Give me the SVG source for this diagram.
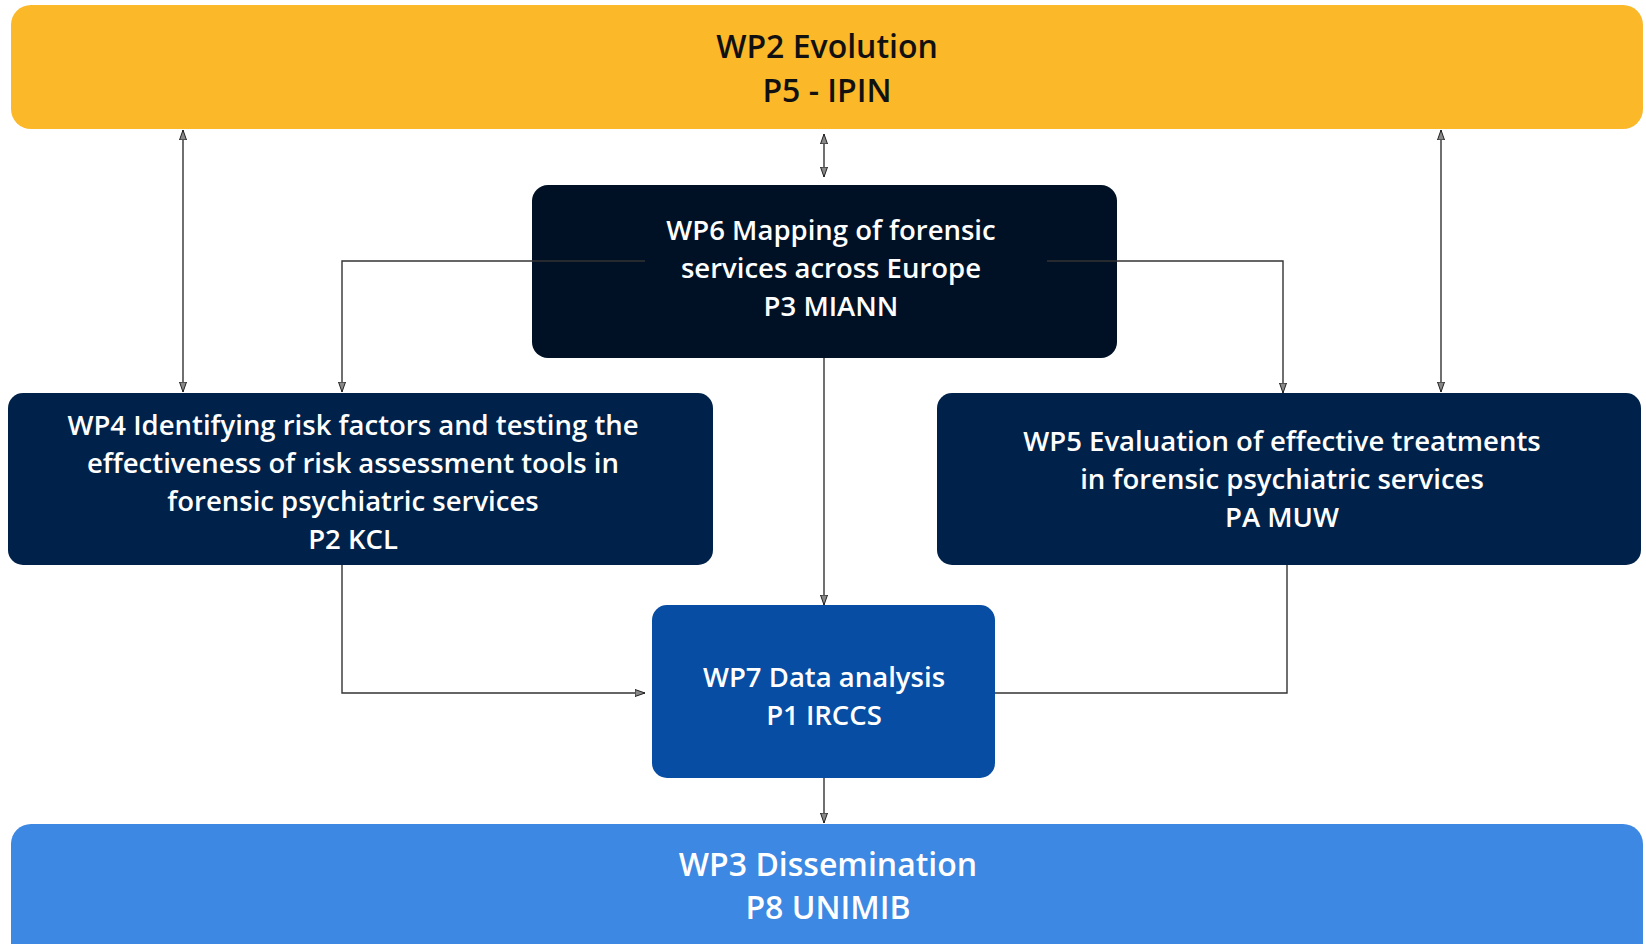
<svg xmlns="http://www.w3.org/2000/svg" width="1646" height="944" viewBox="0 0 1646 944">
<style>
.t{font-family:"Open Sans","Noto Sans","DejaVu Sans",sans-serif;text-anchor:middle;}
.big{font-size:32px;font-weight:600;}
.mid{font-size:27.5px;font-weight:600;fill:#ffffff;}
.dk{fill:#111111;}
.wh{fill:#ffffff;}
.c{fill:none;stroke:#333333;stroke-width:1.4;}
</style>
<defs>
<marker id="ah" viewBox="0 0 10 8" refX="10" refY="4" markerWidth="10" markerHeight="8" markerUnits="userSpaceOnUse" orient="auto-start-reverse">
<path d="M0,0.5 L10,4 L0,7.5 Z" fill="#888888" stroke="#222222" stroke-width="1"/>
</marker>
</defs>
<g id="wp2">
<rect x="11" y="5" width="1632" height="124" rx="20" fill="#FBB829"/>
<text class="t big dk" x="827" y="58">WP2 Evolution</text>
<text class="t big dk" x="827" y="102">P5 - IPIN</text>
</g>
<g id="wp6">
<rect x="532" y="185" width="585" height="173" rx="16" fill="#001126"/>
<text class="t mid" x="831" y="240">WP6 Mapping of forensic</text>
<text class="t mid" x="831" y="278">services across Europe</text>
<text class="t mid" x="831" y="316">P3 MIANN</text>
</g>
<g id="wp4">
<rect x="8" y="393" width="705" height="172" rx="15" fill="#00224A"/>
<text class="t mid" x="353" y="435">WP4 Identifying risk factors and testing the</text>
<text class="t mid" x="353" y="473">effectiveness of risk assessment tools in</text>
<text class="t mid" x="353" y="511">forensic psychiatric services</text>
<text class="t mid" x="353" y="549">P2 KCL</text>
</g>
<g id="wp5">
<rect x="937" y="393" width="704" height="172" rx="15" fill="#00224A"/>
<text class="t mid" x="1282" y="451">WP5 Evaluation of effective treatments</text>
<text class="t mid" x="1282" y="489">in forensic psychiatric services</text>
<text class="t mid" x="1282" y="527">PA MUW</text>
</g>
<g id="wp7">
<rect x="652" y="605" width="343" height="173" rx="15" fill="#074DA3"/>
<text class="t mid" x="824" y="687">WP7 Data analysis</text>
<text class="t mid" x="824" y="725">P1 IRCCS</text>
</g>
<g id="wp3">
<rect x="11" y="824" width="1632" height="140" rx="20" fill="#3D88E3"/>
<text class="t big wh" x="828" y="876">WP3 Dissemination</text>
<text class="t big wh" x="828" y="919">P8 UNIMIB</text>
</g>
<g id="connectors">
<line class="c" x1="183" y1="130" x2="183" y2="392" marker-start="url(#ah)" marker-end="url(#ah)"/>
<line class="c" x1="824" y1="134" x2="824" y2="177" marker-start="url(#ah)" marker-end="url(#ah)"/>
<line class="c" x1="1441" y1="130" x2="1441" y2="392" marker-start="url(#ah)" marker-end="url(#ah)"/>
<polyline class="c" points="645,261 342,261 342,392" marker-end="url(#ah)"/>
<polyline class="c" points="1047,261 1283,261 1283,393" marker-end="url(#ah)"/>
<line class="c" x1="824" y1="358" x2="824" y2="605" marker-end="url(#ah)"/>
<polyline class="c" points="342,565 342,693 645,693" marker-end="url(#ah)"/>
<polyline class="c" points="1287,565 1287,693 995,693"/>
<line class="c" x1="824" y1="778" x2="824" y2="823" marker-end="url(#ah)"/>
</g>
</svg>
